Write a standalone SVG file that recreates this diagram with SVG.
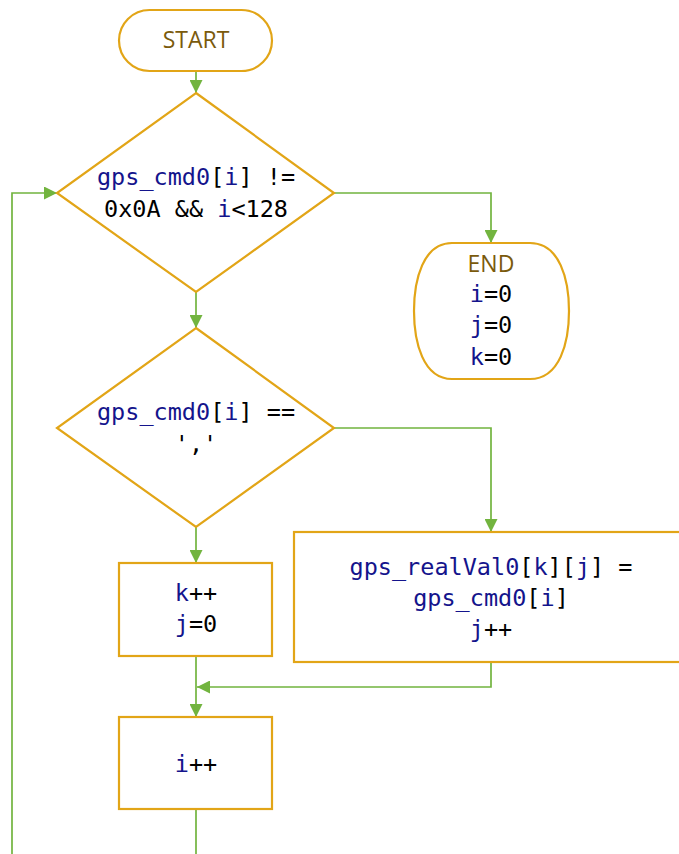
<svg xmlns="http://www.w3.org/2000/svg" width="679" height="854" viewBox="0 0 679 854">
<defs>
<style>
.node{fill:#fff;stroke:#e2a517;stroke-width:2.2}
.conn{fill:none;stroke:#72b43f;stroke-width:1.7}
.code{font-family:"DejaVu Sans Mono","Liberation Mono",monospace;font-size:23.5px;fill:#000;text-anchor:middle}
.id{fill:#14148c}
.term{font-family:"Open Sans","Noto Sans",sans-serif;font-size:23px;fill:#7a5a0c;text-anchor:middle}
</style>
<marker id="arr" viewBox="0 0 12 12" refX="12" refY="6" markerWidth="13" markerHeight="13" markerUnits="userSpaceOnUse" orient="auto">
<path d="M0,0 L12,6 L0,12 Z" fill="#72b43f"/>
</marker>
</defs>
<rect width="679" height="854" fill="#fff"/>
<g id="connectors">
<path class="conn" d="M196 71 V93" marker-end="url(#arr)"/>
<path class="conn" d="M334 193 H491 V243" marker-end="url(#arr)"/>
<path class="conn" d="M196 292 V328" marker-end="url(#arr)"/>
<path class="conn" d="M334 428 H491 V532" marker-end="url(#arr)"/>
<path class="conn" d="M196 527 V563" marker-end="url(#arr)"/>
<path class="conn" d="M196 656 V717" marker-end="url(#arr)"/>
<path class="conn" d="M491 662 V687 H197" marker-end="url(#arr)"/>
<path class="conn" d="M196 809 V870 H12 V193 H57" marker-end="url(#arr)"/>
</g>
<g id="start">
<rect class="node" x="119" y="10" width="153" height="61" rx="30.5"/>
<text class="term" x="196" y="48">START</text>
</g>
<g id="cond1">
<polygon class="node" points="196,93 334,193 196,292 57,193"/>
<text class="code" x="196" y="185"><tspan class="id">gps_cmd0</tspan>[<tspan class="id">i</tspan>] !=</text>
<text class="code" x="196" y="217">0x0A &amp;&amp; <tspan class="id">i</tspan>&lt;128</text>
</g>
<g id="end">
<path class="node" d="M452 243 H530 C560 243 569 280 569 311 C569 342 560 379 530 379 H452 C423 379 414 342 414 311 C414 280 423 243 452 243 Z"/>
<text class="term" x="491" y="272">END</text>
<text class="code" x="491" y="302"><tspan class="id">i</tspan>=0</text>
<text class="code" x="491" y="333"><tspan class="id">j</tspan>=0</text>
<text class="code" x="491" y="365"><tspan class="id">k</tspan>=0</text>
</g>
<g id="cond2">
<polygon class="node" points="196,328 334,428 196,527 57,428"/>
<text class="code" x="196" y="420"><tspan class="id">gps_cmd0</tspan>[<tspan class="id">i</tspan>] ==</text>
<text class="code" x="196" y="452">','</text>
</g>
<g id="assign">
<rect class="node" x="294" y="532" width="394" height="130"/>
<text class="code" x="491" y="575"><tspan class="id">gps_realVal0</tspan>[<tspan class="id">k</tspan>][<tspan class="id">j</tspan>] =</text>
<text class="code" x="491" y="606"><tspan class="id">gps_cmd0</tspan>[<tspan class="id">i</tspan>]</text>
<text class="code" x="491" y="637"><tspan class="id">j</tspan>++</text>
</g>
<g id="kinc">
<rect class="node" x="119" y="563" width="153" height="93"/>
<text class="code" x="196" y="601"><tspan class="id">k</tspan>++</text>
<text class="code" x="196" y="632"><tspan class="id">j</tspan>=0</text>
</g>
<g id="iinc">
<rect class="node" x="119" y="717" width="153" height="92"/>
<text class="code" x="196" y="772"><tspan class="id">i</tspan>++</text>
</g>
</svg>
